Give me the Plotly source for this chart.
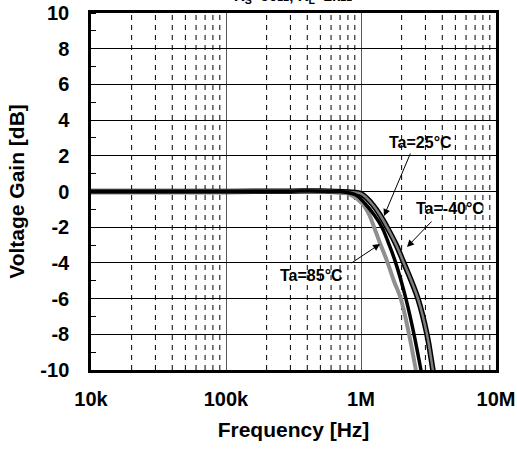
import plotly.graph_objects as go

# Frequency response of the amplifier at three ambient temperatures
freq_85 = [1e4, 1e5, 3e5, 5e5, 6.9e5, 8.3e5, 1.02e6, 1.15e6, 1.25e6, 1.4e6, 1.56e6, 1.75e6, 1.97e6, 2.27e6, 2.55e6, 2.7e6]
gain_85 = [0.0, 0.0, 0.02, 0.0, -0.02, -0.17, -0.67, -1.3, -2.0, -3.0, -3.9, -5.0, -6.0, -8.0, -10.0, -11.0]

freq_25 = [1e4, 1e5, 3e5, 5e5, 7.5e5, 9.3e5, 1.07e6, 1.25e6, 1.43e6, 1.6e6, 1.79e6, 2.15e6, 2.47e6, 2.78e6, 2.95e6]
gain_25 = [0.0, 0.0, 0.02, 0.02, -0.03, -0.22, -0.67, -1.3, -2.0, -2.9, -3.9, -6.0, -8.0, -10.0, -11.0]

freq_m40 = [1e4, 1e5, 3e5, 5e5, 8e5, 1e6, 1.2e6, 1.38e6, 1.56e6, 1.8e6, 2.05e6, 2.64e6, 3.08e6, 3.41e6, 3.6e6]
gain_m40 = [0.0, 0.0, 0.02, 0.03, -0.03, -0.12, -0.67, -1.3, -2.0, -2.9, -3.9, -6.0, -8.0, -10.0, -11.0]

x_tickvals = [1e4, 1e5, 1e6, 1e7]
x_ticktext = ["10k", "100k", "1M", "10M"]
y_tickvals = [-10, -8, -6, -4, -2, 0, 2, 4, 6, 8, 10]

FONT = "Liberation Sans, Arial, sans-serif"

# plot-area geometry in pixels
L, R, T, B = 91, 496, 13, 370
W, H = 517, 452

fig = go.Figure()

# dashed minor grid at 2..9 of each decade
gx, gy = [], []
for dec in (1e4, 1e5, 1e6):
    for m in range(2, 10):
        gx += [dec * m, dec * m, None]
        gy += [-10, 10, None]
fig.add_trace(go.Scatter(x=gx, y=gy, mode="lines", hoverinfo="skip",
                         line=dict(color="black", width=1, dash="5px,5px"), showlegend=False))

# -40°C: grey line with black outline
fig.add_trace(go.Scatter(x=freq_m40, y=gain_m40, mode="lines", line_shape="spline",
                         line=dict(color="black", width=5.5), showlegend=False))
fig.add_trace(go.Scatter(x=freq_m40, y=gain_m40, mode="lines", line_shape="spline",
                         line=dict(color="#7f7f7f", width=2.5), showlegend=False))
# 85°C: grey
fig.add_trace(go.Scatter(x=freq_85, y=gain_85, mode="lines", line_shape="spline",
                         line=dict(color="#8f8f8f", width=4), showlegend=False))
# 25°C: black
fig.add_trace(go.Scatter(x=freq_25, y=gain_25, mode="lines", line_shape="spline",
                         line=dict(color="black", width=3.5), showlegend=False))


def px_to_axis(px, py):
    return 4 + 3 * (px - L) / (R - L), 10 - 20 * (py - T) / (B - T)


def arrow(tip, tail):
    x, y = px_to_axis(*tip)
    return dict(x=x, y=y, xref="x", yref="y",
                ax=tail[0] - tip[0], ay=tail[1] - tip[1],
                text="", showarrow=True, arrowhead=2, arrowsize=1.4,
                arrowwidth=1, arrowcolor="black")


def label(text, px, py, size=16):
    return dict(x=(px - L) / (R - L), y=(B - py) / (B - T), xref="paper", yref="paper",
                xanchor="center", yanchor="middle", text=f"<b>{text}</b>",
                showarrow=False, font=dict(family=FONT, size=size, color="black"))


annotations = [
    arrow((384, 216), (411, 152)),
    arrow((407, 247), (433, 220)),
    arrow((380, 244), (350, 264)),
    label("Ta=25°C", 420, 142),
    label("Ta=-40°C", 450, 208),
    label("Ta=85°C", 311, 275),
    label("R<sub>S</sub>=50Ω, R<sub>L</sub>=2kΩ", 293, -3, size=15),
]

fig.update_layout(
    width=W, height=H,
    margin=dict(l=L, r=W - R, t=T, b=H - B),
    paper_bgcolor="white", plot_bgcolor="white",
    font=dict(family=FONT, size=20, color="black"),
    showlegend=False,
    annotations=annotations,
)

fig.update_xaxes(
    type="log", range=[4, 7], automargin=False,
    tickvals=x_tickvals, ticktext=[f"<b>{t}</b>" for t in x_ticktext],
    ticks="", ticklabelstandoff=9,
    showgrid=True, gridcolor="#555555", gridwidth=1.2,
    showline=True, linecolor="black", linewidth=2.5, mirror=True,
    title=dict(text="<b>Frequency [Hz]</b>", standoff=14, font=dict(size=21)),
    zeroline=False,
)
fig.update_yaxes(
    range=[-10, 10], automargin=False, tickvals=y_tickvals,
    ticktext=[f"<b>{v}</b>" for v in y_tickvals],
    ticks="", ticklabelstandoff=15,
    minor=dict(dtick=1, ticks="inside", ticklen=5, tickcolor="black", showgrid=False),
    showgrid=True, gridcolor="black", gridwidth=1,
    showline=True, linecolor="black", linewidth=2.5, mirror=True,
    title=dict(text="<b>Voltage Gain [dB]</b>", standoff=10, font=dict(size=21)),
    zeroline=False,
)

fig.write_html("out.html")
